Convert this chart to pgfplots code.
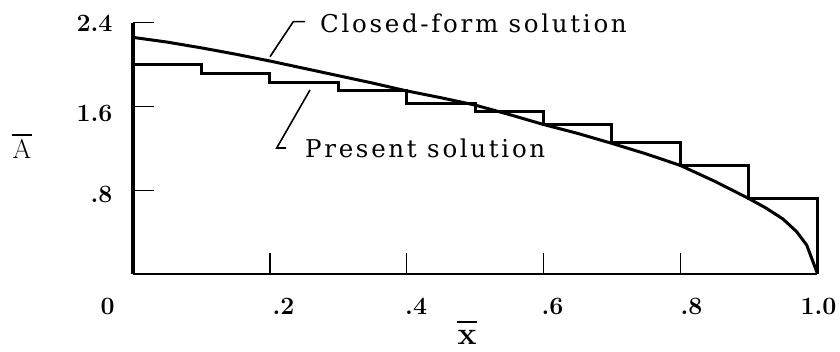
\documentclass[border=0pt]{standalone}
\usepackage{fontspec}
\usepackage{pgfplots}
\pgfplotsset{compat=1.18}
\newfontfamily\lblfam{DejaVu Serif}[LetterSpace=11]

% Step values of the present solution (value held on each 0.1 interval)
\pgfplotstableread{
x     y
0.0   2.00
0.1   1.92
0.2   1.83
0.3   1.75
0.4   1.63
0.5   1.55
0.6   1.425
0.7   1.256
0.8   1.043
0.9   0.726
1.0   0
}\present

% Closed-form solution
\pgfplotstableread{
x      y
0.00   2.26
0.05   2.215
0.10   2.16
0.15   2.10
0.20   2.035
0.25   1.965
0.30   1.895
0.35   1.825
0.40   1.75
0.45   1.685
0.50   1.615
0.55   1.525
0.60   1.43
0.65   1.345
0.70   1.25
0.75   1.15
0.80   1.04
0.85   0.89
0.90   0.725
0.925  0.635
0.95   0.53
0.97   0.41
0.985  0.28
1.00   0.02
}\closedform

\newcommand\lblfont{\lblfam\fontsize{24.5}{29}\selectfont}
\newcommand\tickfont{\fontsize{24.9}{30}\selectfont\bfseries}

\begin{document}
\begin{tikzpicture}
\path[use as bounding box] (-133pt,-77.5pt) rectangle (707pt,274.5pt);
\begin{axis}[
  at={(0pt,0pt)}, anchor=south west,
  scale only axis, width=684pt, height=251.8pt,
  xmin=0, xmax=1, ymin=0, ymax=2.4,
  axis x line=bottom, axis y line=left,
  x axis line style={-, line width=2pt},
  y axis line style={-, line width=3.2pt},
  xtick={0.2,0.4,0.6,0.8}, ytick={0.8,1.6,2.4},
  xticklabels={}, yticklabels={},
  tick align=inside, major tick length=21pt,
  tick style={line width=1.4pt, black},
  clip=false,
]
\addplot[const plot mark left, line width=3pt, black, line join=miter] table {\present};
\addplot[line width=3pt, black, line join=round] table {\closedform};
\end{axis}

% tick labels
\node[font=\tickfont, anchor=base east] at (-17pt,242.5pt) {2.4};
\node[font=\tickfont, anchor=base east] at (-17pt,152.5pt) {1.6};
\node[font=\tickfont, anchor=base east] at (-17pt,71.5pt) {.8};
\node[font=\tickfont, anchor=base west] at (-36pt,-40.5pt) {0};
\node[font=\tickfont, anchor=base west] at (136pt,-40.5pt) {.2};
\node[font=\tickfont, anchor=base west] at (268.7pt,-40.5pt) {.4};
\node[font=\tickfont, anchor=base west] at (405pt,-40.5pt) {.6};
\node[font=\tickfont, anchor=base west] at (544pt,-40.5pt) {.8};
\node[font=\tickfont, anchor=base west] at (664pt,-40.5pt) {1.0};

% axis labels: A-bar and x-bar
\node[font=\fontsize{27}{32}\selectfont, anchor=base, inner sep=0pt] at (-111pt,115.5pt) {A};
\draw[line width=1.6pt] (-121pt,139.5pt) -- (-101pt,139.5pt);
\node[font=\fontsize{32}{38}\selectfont\bfseries, anchor=base, inner sep=0pt] at (334pt,-70.5pt) {x};
\draw[line width=1.8pt] (324pt,-47.5pt) -- (344pt,-47.5pt);

% curve annotations
\draw[line width=1.6pt] (137pt,217.8pt) -- (160.3pt,252.8pt) -- (172pt,252.8pt);
\node[font=\lblfont, anchor=base west, inner sep=0pt] at (187pt,241.5pt) {Closed-form solution};
\draw[line width=1.6pt] (177pt,184.5pt) -- (143.7pt,126.5pt) -- (153pt,126.5pt);
\node[font=\lblfont, anchor=base west, inner sep=0pt] at (172pt,117.2pt) {Present solution};
\end{tikzpicture}
\end{document}
